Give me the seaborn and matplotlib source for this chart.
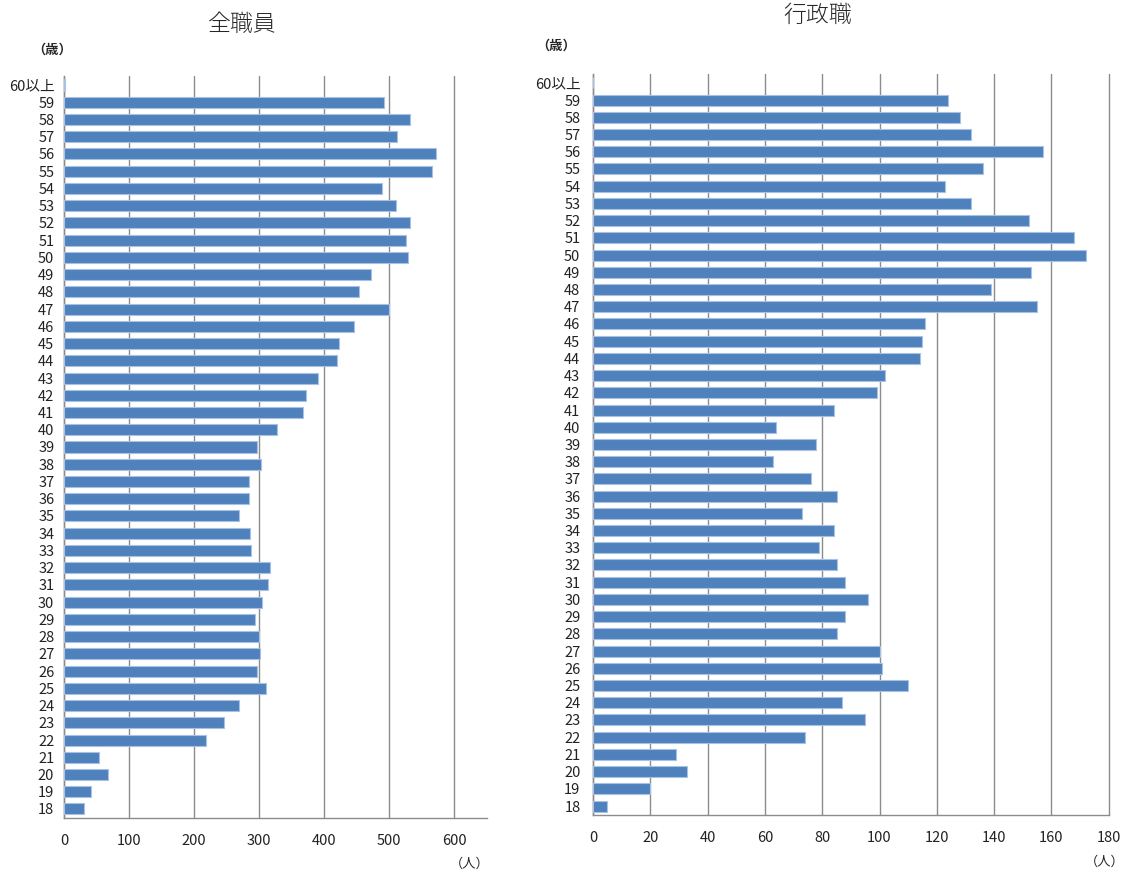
import matplotlib

matplotlib.use("Agg")

import matplotlib.pyplot as plt
import pandas as pd
import seaborn as sns

AGES = ["60以上"] + [str(a) for a in range(59, 17, -1)]

# 全職員 (top: 60以上, then 59 ... 18)
ALL_STAFF = [
    2, 491, 531, 512, 571, 566, 488, 510, 531, 526, 528,
    471, 454, 500, 445, 422, 419, 390, 372, 367, 327,
    297, 302, 285, 284, 269, 286, 288, 317, 313, 304,
    293, 300, 301, 297, 311, 269, 246, 218, 54, 68, 42, 31,
]

# 行政職
ADMIN_STAFF = [
    0, 124, 128, 132, 157, 136, 123, 132, 152, 168, 172,
    153, 139, 155, 116, 115, 114, 102, 99, 84, 64,
    78, 63, 76, 85, 73, 84, 79, 85, 88, 96,
    88, 85, 100, 101, 110, 87, 95, 74, 29, 33, 20, 5,
]

LEFT_TICKS = [0, 100, 200, 300, 400, 500, 600]
RIGHT_TICKS = [0, 20, 40, 60, 80, 100, 120, 140, 160, 180]

BAR_COLOR = "#4F81BD"
EDGE_COLOR = "#A9C2E3"
GRID_COLOR = "#8C8C8C"


def draw_panel(ax, values, ticks, xmax, ypad):
    df = pd.DataFrame({"age": AGES, "count": values})
    sns.barplot(
        data=df, x="count", y="age", order=AGES, orient="h",
        color=BAR_COLOR, saturation=1, width=0.64,
        edgecolor=EDGE_COLOR, linewidth=0.8, ax=ax, zorder=3,
    )
    ax.set_xlim(0, xmax)
    ax.set_xticks(ticks)
    ax.set_xticklabels([str(t) for t in ticks])
    ax.set_xlabel("")
    ax.set_ylabel("")
    ax.xaxis.grid(True, color=GRID_COLOR, linewidth=1.0, zorder=0)
    ax.yaxis.grid(False)
    ax.set_axisbelow(True)
    for line in ax.get_xgridlines():
        line.set_clip_on(False)
    for side in ["top", "right"]:
        ax.spines[side].set_visible(False)
    for side in ["left", "bottom"]:
        ax.spines[side].set_color(GRID_COLOR)
        ax.spines[side].set_linewidth(1.0)
    ax.tick_params(axis="x", length=0, pad=12, labelsize=10.5, colors="#222222")
    ax.tick_params(axis="y", length=0, pad=ypad, labelsize=10.5, colors="#222222")


sns.set_style("white")
plt.rcParams["font.family"] = ["Noto Sans CJK JP", "DejaVu Sans"]

fig = plt.figure(figsize=(11.25, 8.72), dpi=100)
ax_left = fig.add_axes([0.0569, 0.0624, 0.376, 0.850])
ax_right = fig.add_axes([0.527, 0.0658, 0.4586, 0.849])

draw_panel(ax_left, ALL_STAFF, LEFT_TICKS, 650, 7)
draw_panel(ax_right, ADMIN_STAFF, RIGHT_TICKS, 180, 9)

fig.text(242 / 1125, 1 - 24 / 872, "全職員", ha="center", va="center", fontsize=16.5, fontweight="light")
fig.text(818 / 1125, 1 - 15 / 872, "行政職", ha="center", va="center", fontsize=16.5, fontweight="light")
fig.text(52 / 1125, 1 - 50 / 872, "（歳）", ha="center", va="center", fontsize=9.5, fontweight="bold")
fig.text(556 / 1125, 1 - 46 / 872, "（歳）", ha="center", va="center", fontsize=9.5, fontweight="bold")
fig.text(470 / 1125, 1 - 864 / 872, "（人）", ha="center", va="center", fontsize=9.5)
fig.text(1105 / 1125, 1 - 862 / 872, "（人）", ha="center", va="center", fontsize=9.5)

fig.savefig("out.png", dpi=100)
plt.close(fig)
